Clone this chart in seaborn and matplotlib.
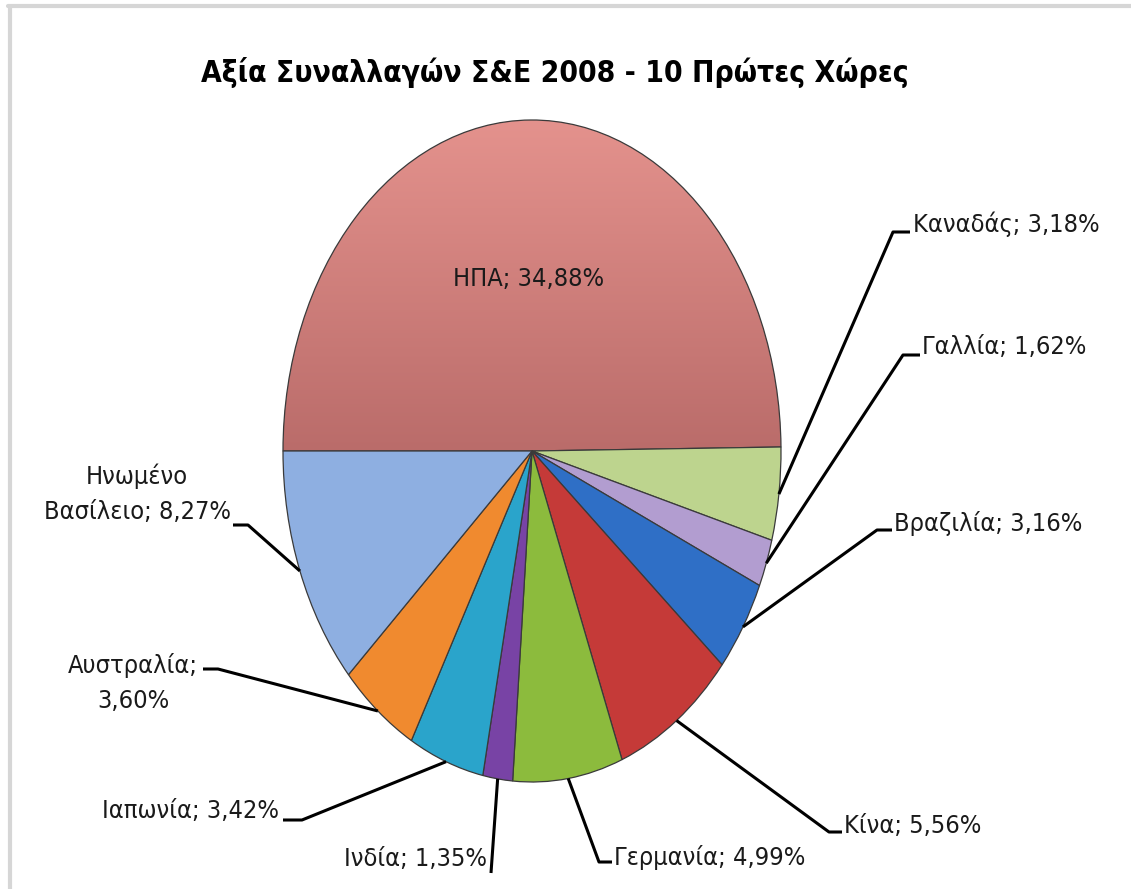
import numpy as np
import matplotlib
matplotlib.use("Agg")
import matplotlib.pyplot as plt
from matplotlib import font_manager
from matplotlib.font_manager import FontProperties
from matplotlib.lines import Line2D
from matplotlib.colors import to_rgb
import seaborn as sns

# Value of M&A transactions 2008 - top 10 countries (share of world total, %)
countries = ["ΗΠΑ", "Καναδάς", "Γαλλία", "Βραζιλία", "Κίνα",
             "Γερμανία", "Ινδία", "Ιαπωνία", "Αυστραλία", "Ηνωμένο\nΒασίλειο"]
shares = [34.88, 3.18, 1.62, 3.16, 5.56, 4.99, 1.35, 3.42, 3.60, 8.27]
title = "Αξία Συναλλαγών Σ&Ε 2008 - 10 Πρώτες Χώρες"

slice_colors = ["#D8837F", "#BDD48E", "#B29DD0", "#2F6FC6", "#C53A38",
                "#8CBB3D", "#7843A5", "#2AA4CB", "#F08A2F", "#8EAFE1"]

sns.set_theme(style="white")
plt.rcParams["font.family"] = ["Liberation Sans", "DejaVu Sans"]


def condensed_face(bold):
    """Return the file of an installed condensed/narrow sans face, if any."""
    prefs = ["Liberation Sans Narrow", "DejaVu Sans", "Roboto", "Open Sans",
             "Noto Sans", "Lato", "Inter", "Liberation Sans"]
    for pref in prefs:
        for f in font_manager.fontManager.ttflist:
            if f.name != pref:
                continue
            st = str(f.stretch).lower()
            cond = "condensed" in st or "narrow" in f.name.lower() or "narrow" in f.fname.lower()
            if st.isdigit():
                cond = cond or int(st) < 100
            if not cond or f.style != "normal":
                continue
            w = f.weight if isinstance(f.weight, (int, float)) else font_manager.weight_dict.get(f.weight, 400)
            if (w >= 600) != bold:
                continue
            return f.fname
    return None


reg_file, bold_file = condensed_face(False), condensed_face(True)
if reg_file:
    label_fp = FontProperties(fname=reg_file, size=18.2)
else:
    label_fp = FontProperties(family=["Liberation Sans", "DejaVu Sans"], size=18)
if bold_file:
    title_fp = FontProperties(fname=bold_file, size=21.5)
else:
    title_fp = FontProperties(family=["Liberation Sans", "DejaVu Sans"], weight="bold", size=22.5)

W, H = 1131, 889
fig = plt.figure(figsize=(W / 100, H / 100), dpi=100)
fig.patch.set_facecolor("white")


def fig_xy(px, py):
    """pixel position measured from the top-left corner -> figure fraction"""
    return px / W, 1 - py / H


# pie drawn on an elliptical axes box (taller than wide)
ax = fig.add_axes([283 / W, 1 - 782 / H, 498 / W, 662 / H])
wedges, _ = ax.pie(shares, colors=slice_colors, startangle=180, counterclock=False,
                   radius=1, wedgeprops=dict(edgecolor="#3a3a3a", linewidth=0.9))

# soft vertical gradient on the largest slice
yy, xx = np.mgrid[1:-1:300j, -1:1:300j]
top_c, bot_c = np.array(to_rgb("#E4928D")), np.array(to_rgb("#BA6C6A"))
t = np.clip(yy, 0, 1)[..., None]
grad = bot_c + (top_c - bot_c) * t
img = ax.imshow(grad, extent=(-1, 1, -1, 1), aspect="auto", zorder=0.5)
img.set_clip_path(wedges[0])
wedges[0].set_facecolor("none")

ax.set_aspect("auto")
ax.set_xlim(-1, 1)
ax.set_ylim(-1, 1)
ax.axis("off")

labels = [f"{c}; {v:.2f}%".replace(".", ",") for c, v in zip(countries, shares)]
labels[8] = labels[8].replace("; ", ";\n")

# leader-line elbows, stub ends and text anchors (pixels from top-left)
layout = {
    1: dict(elbow=(893, 232), stub=(910, 232), text=(913, 224), ha="left"),
    2: dict(elbow=(903, 355), stub=(920, 355), text=(922, 347), ha="left"),
    3: dict(elbow=(877, 530), stub=(892, 530), text=(894, 523), ha="left"),
    4: dict(elbow=(829, 832), stub=(842, 832), text=(844, 826), ha="left"),
    5: dict(elbow=(599, 862), stub=(612, 862), text=(614, 857), ha="left"),
    6: dict(elbow=(491, 873), stub=(491, 873), text=(487, 859), ha="right"),
    7: dict(elbow=(302, 820), stub=(283, 820), text=(279, 811), ha="right"),
    8: dict(elbow=(218, 669), stub=(203, 669), text=(133, 683), ha="center"),
    9: dict(elbow=(248, 525), stub=(233, 525), text=(137, 494), ha="center"),
}

for i, w in enumerate(wedges):
    mid = np.deg2rad((w.theta1 + w.theta2) / 2)
    if i == 0:
        ax.text(0.52 * np.cos(mid) - 0.01, 0.52 * np.sin(mid), labels[i],
                ha="center", va="center", fontproperties=label_fp, color="#1a1a1a")
        continue
    spec = layout[i]
    rim_disp = ax.transData.transform((np.cos(mid), np.sin(mid)))
    rx, ry = rim_disp[0] / W, rim_disp[1] / H
    ex, ey = fig_xy(*spec["elbow"])
    sx, sy = fig_xy(*spec["stub"])
    fig.add_artist(Line2D([rx, ex, sx], [ry, ey, sy], transform=fig.transFigure,
                          color="black", lw=2.2, solid_capstyle="butt"))
    tx, ty = fig_xy(*spec["text"])
    fig.text(tx, ty, labels[i], ha=spec["ha"], va="center", fontproperties=label_fp,
             color="#1a1a1a", multialignment="center", linespacing=1.6)

fig.text(*fig_xy(555, 73), title, ha="center", va="center", fontproperties=title_fp,
         color="black")

# chart-area frame (top and left edges)
fig.add_artist(Line2D([8 / W, 1], [1 - 5.5 / H, 1 - 5.5 / H], transform=fig.transFigure,
                      color="#D6D6D6", lw=3))
fig.add_artist(Line2D([10 / W, 10 / W], [0, 1 - 5.5 / H], transform=fig.transFigure,
                      color="#D6D6D6", lw=3))

fig.savefig("out.png", dpi=100)
